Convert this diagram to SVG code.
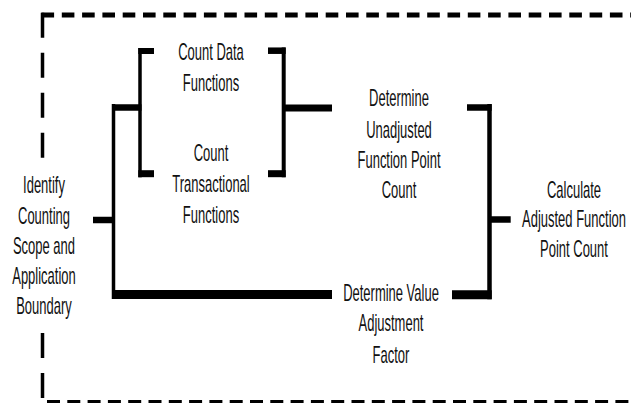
<svg xmlns="http://www.w3.org/2000/svg" width="631" height="403" viewBox="0 0 631 403">
<style>
  .t { font-family: "Liberation Sans", Arial, sans-serif; font-size: 23px; fill: #111; text-anchor: middle; }
  .c { stroke: #000; fill: none; stroke-linecap: butt; }
  .b { stroke: #000; fill: none; stroke-linecap: butt; }
</style>
<rect width="631" height="403" fill="#fff"/>
<g id="boundary">
  <path class="b" d="M41.5,15 H631" stroke-width="5" stroke-dasharray="12.6 7.7"/>
  <path class="b" d="M42.5,12.7 V160" stroke-width="3.5" stroke-dasharray="25 15"/>
  <path class="b" d="M42.5,333 V401" stroke-width="3.5" stroke-dasharray="25 15"/>
  <path class="b" d="M47,402.5 H631" stroke-width="5" stroke-dasharray="13 7.3"/>
</g>
<g id="connectors">
  <line class="c" x1="93" y1="220" x2="114" y2="220" stroke-width="6.5"/>
  <line class="c" x1="113.5" y1="104" x2="113.5" y2="299" stroke-width="3.5"/>
  <line class="c" x1="112" y1="107.5" x2="141.5" y2="107.5" stroke-width="6.5"/>
  <line class="c" x1="112" y1="294.5" x2="332" y2="294.5" stroke-width="9"/>
  <line class="c" x1="140" y1="48" x2="140" y2="177.3" stroke-width="3.5"/>
  <line class="c" x1="138.3" y1="51" x2="154" y2="51" stroke-width="6"/>
  <line class="c" x1="138.3" y1="173.7" x2="154" y2="173.7" stroke-width="7"/>
  <line class="c" x1="268" y1="50.7" x2="285.7" y2="50.7" stroke-width="6.5"/>
  <line class="c" x1="283.7" y1="47.5" x2="283.7" y2="177.3" stroke-width="4"/>
  <line class="c" x1="268" y1="173.7" x2="285.7" y2="173.7" stroke-width="7"/>
  <line class="c" x1="283" y1="108" x2="332" y2="108" stroke-width="7"/>
  <line class="c" x1="467" y1="107.5" x2="491.7" y2="107.5" stroke-width="6.5"/>
  <line class="c" x1="489.5" y1="104" x2="489.5" y2="299.3" stroke-width="4.5"/>
  <line class="c" x1="452" y1="294.7" x2="491.7" y2="294.7" stroke-width="9"/>
  <line class="c" x1="489" y1="219.5" x2="510.7" y2="219.5" stroke-width="6.5"/>
</g>
<g id="identify" transform="translate(44,0) scale(0.565,1)">
  <text class="t" x="0" y="193.5">Identify</text>
  <text class="t" x="0" y="224">Counting</text>
  <text class="t" x="0" y="254">Scope and</text>
  <text class="t" x="0" y="284">Application</text>
  <text class="t" x="0" y="314">Boundary</text>
</g>
<g id="count-data" transform="translate(211,0) scale(0.565,1)">
  <text class="t" x="0" y="60">Count Data</text>
  <text class="t" x="0" y="91">Functions</text>
</g>
<g id="count-transactional" transform="translate(211,0) scale(0.565,1)">
  <text class="t" x="0" y="161.5">Count</text>
  <text class="t" x="0" y="192">Transactional</text>
  <text class="t" x="0" y="223">Functions</text>
</g>
<g id="unadjusted" transform="translate(399,0) scale(0.565,1)">
  <text class="t" x="0" y="106.5">Determine</text>
  <text class="t" x="0" y="138">Unadjusted</text>
  <text class="t" x="0" y="168">Function Point</text>
  <text class="t" x="0" y="198">Count</text>
</g>
<g id="value-adjustment" transform="translate(391,0) scale(0.565,1)">
  <text class="t" x="0" y="301.5">Determine Value</text>
  <text class="t" x="0" y="331.5">Adjustment</text>
  <text class="t" x="0" y="363">Factor</text>
</g>
<g id="calculate" transform="translate(574,0) scale(0.565,1)">
  <text class="t" x="0" y="198">Calculate</text>
  <text class="t" x="0" y="227">Adjusted Function</text>
  <text class="t" x="0" y="257">Point Count</text>
</g>
</svg>
